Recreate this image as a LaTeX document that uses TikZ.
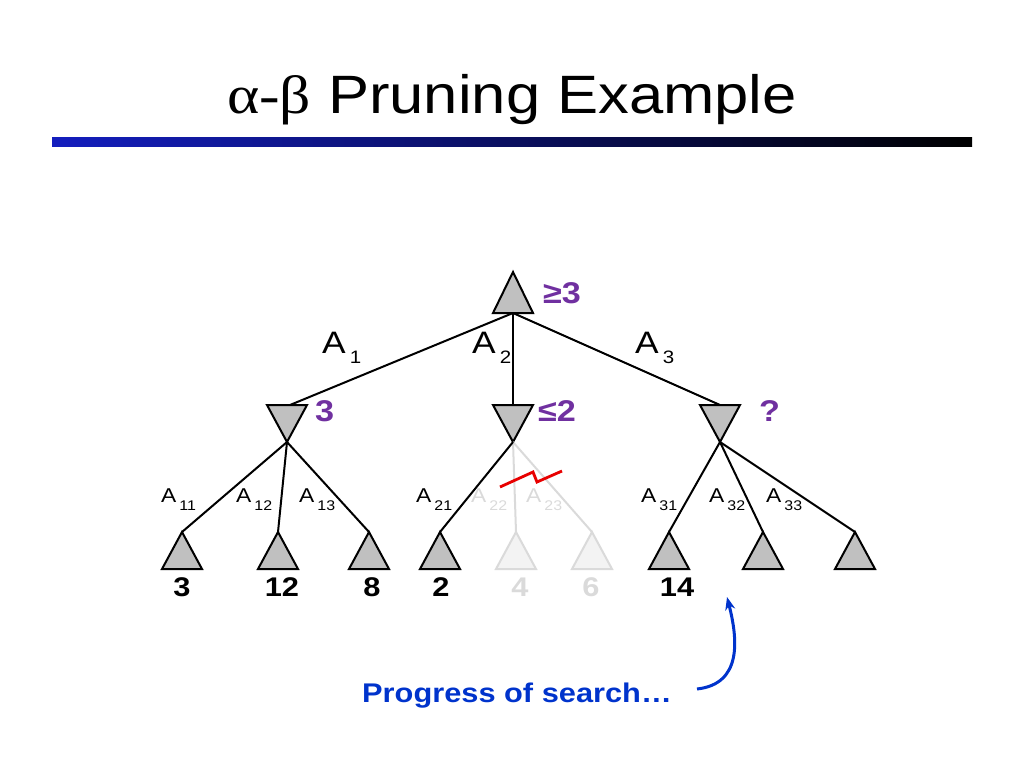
\documentclass[tikz,border=0pt]{standalone}
\usepackage{fontspec}
\setmainfont{Liberation Sans}[FakeStretch=1.14]
\newfontfamily\greekfont{Liberation Serif}[FakeStretch=1.14]
\usetikzlibrary{arrows.meta}
\definecolor{valpurple}{RGB}{112,48,160}
\definecolor{progblue}{RGB}{0,51,204}
\definecolor{barblue}{RGB}{20,30,190}
\definecolor{nodegray}{RGB}{192,192,192}
\definecolor{palefill}{RGB}{243,243,243}
\definecolor{paleline}{RGB}{218,218,218}
\definecolor{cutred}{RGB}{232,0,0}
\def\uptri[#1](#2){\draw[#1] (#2) -- ++(-20,37) -- ++(40,0) -- cycle;}
\def\downtri[#1](#2){\draw[#1] (#2) -- ++(-20,-37) -- ++(40,0) -- cycle;}
\def\bigA#1{A\hspace{4pt}\raisebox{-10pt}{\fontsize{18}{18}\selectfont #1}}
\def\smallA#1{A\hspace{3pt}\raisebox{-8pt}{\fontsize{14}{14}\selectfont #1}}
\tikzset{
  edge/.style={line width=2pt},
  pruned/.style={line width=2pt, draw=paleline},
  tri/.style={line width=2pt, fill=nodegray},
  paletri/.style={line width=2pt, draw=paleline, fill=palefill},
  valA/.style={anchor=base west, inner sep=0pt, font=\fontsize{31}{31}\selectfont},
  valB/.style={anchor=base west, inner sep=0pt, font=\fontsize{20}{20}\selectfont},
  bound/.style={anchor=base west, inner sep=0pt, text=valpurple, font=\bfseries\fontsize{30}{30}\selectfont},
  leaf/.style={anchor=base, inner sep=0pt, font=\bfseries\fontsize{27}{27}\selectfont}
}

\begin{document}
\begin{tikzpicture}[x=1pt, y=-1pt]
			%%%%% START %%%%%
			\useasboundingbox (0, 0) rectangle (1024, 768);
			
			\node[anchor=base, inner sep=0pt, font=\fontsize{54}{54}\selectfont] (title) at (512, 113) {{\greekfont α-β} Pruning Example};
			\shade[left color=barblue, right color=black] (52, 137) rectangle (972, 146);
			
			% root and its three children
			\coordinate (root) at (513, 272);
			\coordinate (rootb) at (513, 313);
			\draw[tri] (root) -- (493, 313) -- (533, 313) -- cycle;
			\node[bound] (rootval) at (543, 303) {≥3};
			
			\coordinate (n1) at (287, 442);
			\coordinate (n2) at (513, 442);
			\coordinate (n3) at (720, 442);
			\coordinate (n1t) at (290, 405);
			\coordinate (n2t) at (513, 405);
			\coordinate (n3t) at (720, 405);
			
			\draw[edge] (rootb) -- (n1t);
			\draw[edge] (rootb) -- (n2t);
			\draw[edge] (rootb) -- (n3t);
			\downtri[tri](n1)
			\downtri[tri](n2)
			\downtri[tri](n3)
			
			\node[valA] (a1) at (322, 353) {\bigA{1}};
			\node[valA] (a2) at (472, 353) {\bigA{2}};
			\node[valA] (a3) at (635, 353) {\bigA{3}};
			
			\node[bound] (v1) at (315, 421) {3};
			\node[bound] (v2) at (538, 421) {≤2};
			\node[bound] (v3) at (759, 421) {?};
			
			% leaves
			\coordinate (l11) at (182, 532);
			\coordinate (l12) at (278, 532);
			\coordinate (l13) at (369, 532);
			\coordinate (l21) at (440, 532);
			\coordinate (l22) at (516, 532);
			\coordinate (l23) at (592, 532);
			\coordinate (l31) at (669, 532);
			\coordinate (l32) at (763, 532);
			\coordinate (l33) at (855, 532);
			
			\draw[pruned] (n2) -- (l22);
			\draw[pruned] (n2) -- (l23);
			\uptri[paletri](l22)
			\uptri[paletri](l23)
			
			\foreach \l in {l11, l12, l13} \draw[edge] (n1) -- (\l);
			\draw[edge] (n2) -- (l21);
			\foreach \l in {l31, l32, l33} \draw[edge] (n3) -- (\l);
			\foreach \l in {l11, l12, l13, l21, l31, l32, l33} {\uptri[tri](\l)}
			
			\draw[line width=2.8pt, cutred] (500, 487) -- (533, 472) -- (537, 482) -- (562, 471);
			
			\node[valB] (a11) at (161, 502) {\smallA{11}};
			\node[valB] (a12) at (236, 502) {\smallA{12}};
			\node[valB] (a13) at (299, 502) {\smallA{13}};
			\node[valB] (a21) at (416, 502) {\smallA{21}};
			\node[valB, text=paleline] (a22) at (471, 502) {\smallA{22}};
			\node[valB, text=paleline] (a23) at (526, 502) {\smallA{23}};
			\node[valB] (a31) at (641, 502) {\smallA{31}};
			\node[valB] (a32) at (709, 502) {\smallA{32}};
			\node[valB] (a33) at (766, 502) {\smallA{33}};
			
			\node[leaf] (x11) at (182, 596) {3};
			\node[leaf] (x12) at (282, 596) {12};
			\node[leaf] (x13) at (372, 596) {8};
			\node[leaf] (x21) at (441, 596) {2};
			\node[leaf, text=paleline] (x22) at (520, 596) {4};
			\node[leaf, text=paleline] (x23) at (591, 596) {6};
			\node[leaf] (x31) at (677, 596) {14};
			
			% progress note
			\node[anchor=base west, inner sep=0pt, text=progblue, font=\bfseries\fontsize{27}{27}\selectfont] (prog) at (362, 702) {Progress of search…};
			\coordinate (progend) at (697, 689);
			\coordinate (progtip) at (727, 597);
			\draw[line width=3pt, progblue, -{Stealth[length=13pt, width=10pt]}] (progend) .. controls (742, 684) and (738, 640) .. (progtip);
			
			%%%%% END %%%%%
\end{tikzpicture}
\end{document}
